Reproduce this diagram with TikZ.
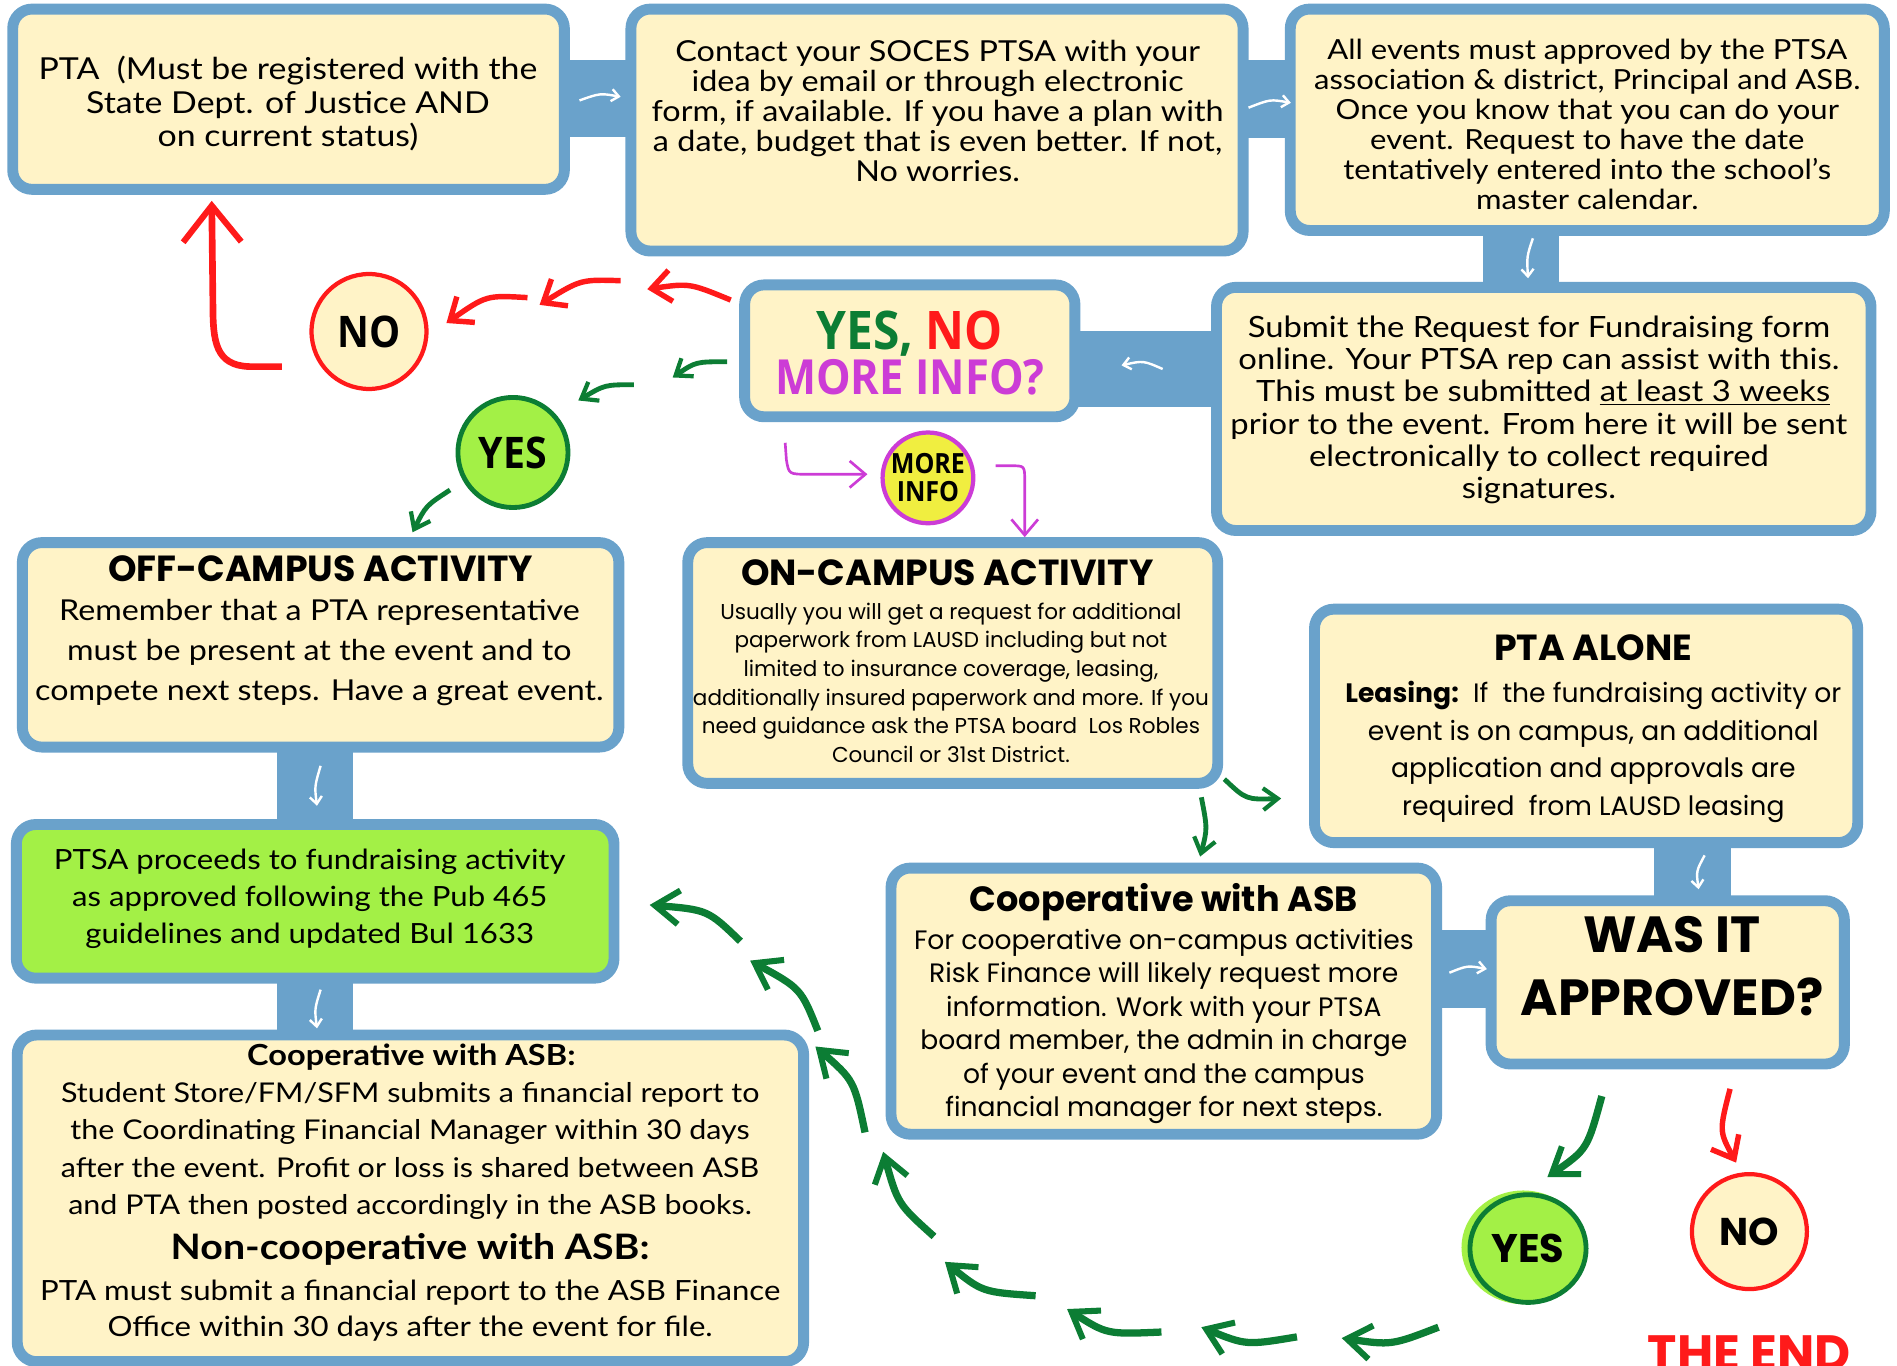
\documentclass[tikz,border=0pt]{standalone}
\usepackage{fontspec}
\setmainfont{Lato}[FakeStretch=1.12]
\newfontfamily\pop{Poppins}
\newfontfamily\cnd[FakeStretch=0.9]{Open Sans}
\usetikzlibrary{arrows.meta,shapes.geometric}
\definecolor{bxblue}{RGB}{106,162,203}
\definecolor{cream}{RGB}{255,243,199}
\definecolor{lgreen}{RGB}{163,240,70}
\definecolor{dgreen}{RGB}{12,125,52}
\definecolor{nred}{RGB}{255,26,26}
\definecolor{mag}{RGB}{204,60,214}
\definecolor{yel}{RGB}{240,238,64}
\newcommand{\fsz}[2]{\fontsize{#1}{#2}\selectfont}
\begin{document}
\begin{tikzpicture}[x=1pt,y=-1pt,
  box/.style={draw=bxblue,line width=9pt,fill=cream,rounded corners=16pt,inner sep=0pt},
  txt/.style={anchor=base,align=center,inner sep=0pt},
  bar/.style={fill=bxblue},
  warr/.style={draw=white,line width=2pt,-{Straight Barb[length=6pt,width=10pt,line width=2pt]}},
  skbig/.style={line width=6pt,-{Straight Barb[length=20pt,width=28pt,line width=5pt]}},
  sksmall/.style={line width=4pt,-{Straight Barb[length=12pt,width=18pt,line width=3.5pt]}},
  skmid/.style={line width=4.5pt,-{Straight Barb[length=16pt,width=26pt,line width=4.5pt]}},
  magarr/.style={draw=mag,line width=2.2pt,-{Straight Barb[length=13pt,width=22pt,line width=2.2pt]}},
  circ/.style={circle,inner sep=0pt}]
\useasboundingbox (0,0) rectangle (1568,1129);
% ---------- bars ----------
\fill[bar] (465,50) rectangle (523,113);
\fill[bar] (1026,50) rectangle (1068,114);
\fill[bar] (1226,189) rectangle (1289,239);
\fill[bar] (887,274) rectangle (1007,336);
\fill[bar] (229,616) rectangle (292,683);
\fill[bar] (229,807) rectangle (292,857);
\fill[bar] (1367,695) rectangle (1431,746);
\fill[bar] (1186,769) rectangle (1234,833);
% ---------- boxes ----------
\node[box,minimum width=456pt,minimum height=149pt] (A) at (238.5,82) {};
\node[box,minimum width=506pt,minimum height=200pt] (B) at (774.5,107.5) {};
\node[box,minimum width=491pt,minimum height=183pt] (C) at (1312,99) {};
\node[box,minimum width=541pt,minimum height=201pt] (D) at (1276,338) {};
\node[box,minimum width=273pt,minimum height=109pt] (E) at (752,290) {};
\node[box,minimum width=493pt,minimum height=169pt] (F) at (265,533) {};
\node[box,fill=lgreen,minimum width=494pt,minimum height=127pt] (G) at (260.5,745) {};
\node[box,minimum width=650pt,minimum height=270pt] (H) at (339.25,990.5) {};
\node[box,minimum width=438pt,minimum height=199pt] (I) at (787.5,548) {};
\node[box,minimum width=449pt,minimum height=193pt] (J) at (1311,600) {};
\node[box,minimum width=292pt,minimum height=135pt] (K) at (1378.5,812) {};
\node[box,minimum width=451pt,minimum height=220pt] (L) at (962,827.5) {};
% ---------- box texts (anchor = baseline of last line) ----------
\node[txt,font=\fsz{25}{27.5}] (tA) at (238,121) {PTA\ \ (Must be registered with the\\State Dept. of Justice AND\\on current status)};
\node[txt,font=\fsz{23.9}{24.75}] (tB) at (775,150) {Contact your SOCES PTSA with your\\idea by email or through electronic\\form, if available. If you have a plan with\\a date, budget that is even better. If not,\\No worries.};
\node[txt,font=\fsz{22.9}{24.8}] (tC) at (1312,173) {All events must approved by the PTSA\\association \& district, Principal and ASB.\\Once you know that you can do your\\event. Request to have the date\\tentatively entered into the school's\\master calendar.};
\node[txt,font=\fsz{24.2}{26.6}] (tD) at (1272,412) {Submit the Request for Fundraising form\\online. Your PTSA rep can assist with this.\\\ This must be submitted \underline{at least 3 weeks}\\prior to the event. From here it will be sent\\electronically to collect required\\signatures.};
\node[txt,font=\cnd\bfseries\fsz{40}{37}] (tE) at (752,326) {{\fsz{44}{37}\color{dgreen}YES, }{\fsz{44}{37}\color{nred}NO}\\{\color{mag}MORE INFO?}};
\node[txt,font=\pop\bfseries\fsz{30}{30}] (tF1) at (265,481) {OFF-CAMPUS ACTIVITY};
\node[txt,font=\fsz{23.8}{33}] (tF2) at (264,579) {Remember that a PTA representative\\must be present at the event and to\\compete next steps. Have a great event.};
\node[txt,font=\fsz{23}{30.7}] (tG) at (256,780) {PTSA proceeds to fundraising activity\\as approved following the Pub 465\\guidelines and updated Bul 1633};
\node[txt,font=\bfseries\fsz{24}{30}] (tH1) at (340,881) {Cooperative with ASB:};
\node[txt,font=\fsz{22.5}{31}] (tH2) at (339,1004) {Student Store/FM/SFM submits a financial report to\\the Coordinating Financial Manager within 30 days\\after the event. Profit or loss is shared between ASB\\and PTA then posted accordingly in the ASB books.};
\node[txt,font=\bfseries\fsz{29}{30}] (tH3) at (339,1041) {Non-cooperative with ASB:};
\node[txt,font=\fsz{23}{30}] (tH4) at (339,1105) {PTA must submit a financial report to the ASB Finance\\Office within 30 days after the event for file.};
\node[txt,font=\pop\bfseries\fsz{30}{30}] (tI1) at (783,484) {ON-CAMPUS ACTIVITY};
\node[txt,font=\pop\fsz{17.8}{23.6}] (tI2) at (786,630) {Usually you will get a request for additional\\paperwork from LAUSD including but not\\limited to insurance coverage, leasing,\\additionally insured paperwork and more. If you\\need guidance ask the PTSA board\ \ Los Robles\\Council or 31st District.};
\node[txt,font=\pop\bfseries\fsz{30}{30}] (tJ1) at (1317,546) {PTA ALONE};
\node[txt,font=\pop\fsz{22}{31}] (tJ2) at (1317,674) {\textbf{Leasing:}\ \ If\ \ the fundraising activity or\\event is on campus, an additional\\application and approvals are\\required\ \ from LAUSD leasing};
\node[txt,font=\pop\bfseries\fsz{42}{52}] (tK) at (1382,839) {WAS IT\\APPROVED?};
\node[txt,font=\pop\bfseries\fsz{29}{30}] (tL1) at (962,753) {Cooperative with ASB};
\node[txt,font=\pop\fsz{22}{27.7}] (tL2) at (962,923) {For cooperative on-campus activities\\Risk Finance will likely request more\\information. Work with your PTSA\\board member, the admin in charge\\of your event and the campus\\financial manager for next steps.};
% ---------- circles ----------
\node[circ,minimum size=95pt,draw=nred,line width=3.5pt,fill=cream,font=\cnd\bfseries\fsz{36}{36}] (NO1) at (305,274) {NO};
\node[circ,minimum size=91pt,draw=dgreen,line width=4pt,fill=lgreen,font=\cnd\bfseries\fsz{36}{36}] (YES1) at (424,374) {YES};
\node[circ,minimum size=75pt,draw=mag,line width=3.5pt,fill=yel,align=center,font=\cnd\bfseries\fsz{23}{23}] (MI) at (767,395) {MORE\\INFO};
\fill[lgreen] (1259,1031) ellipse (51pt and 47pt);
\node[ellipse,inner sep=0pt,minimum width=96pt,minimum height=89pt,draw=dgreen,line width=4pt,fill=lgreen,font=\pop\bfseries\fsz{33}{33}] (YES2) at (1263,1032) {YES};
\node[circ,minimum size=95pt,draw=nred,line width=3.5pt,fill=cream,font=\pop\bfseries\fsz{32}{32}] (NO2) at (1446,1018) {NO};
\node[anchor=base,inner sep=0pt,text=nred,font=\pop\bfseries\fsz{41}{41}] (END) at (1446,1133) {THE END};
% ---------- coordinates ----------
\foreach \n/\x/\y in {
 w1a/479/83,w1c/496/77,w1b/513/80, w2a/1032/89,w2c/1050/82,w2b/1067/85,
 w3a/1267/197,w3c/1262/212,w3b/1263/230, w4a/961/305,w4c/945/298,w4b/927/302,
 w5a/265/633,w5c/260/650,w5b/262/666, w6a/265/818,w6c/260/834,w6b/262/850,
 w7a/1409/707,w7c/1402/720,w7b/1404/735, w8a/1198/804,w8c/1213/798,w8b/1229/801,
 r1a/604/248,r1c/570/234,r1b/535/239, r2a/513/232,r2c/480/231,r2b/446/252,
 r3a/436/246,r3c/402/244,r3b/369/267,
 r4a/233/303,r4m/206/303,r4p/178/302,r4q/176/282,r4n/176/252,r4b/175/166,
 g1a/601/299,g1c/575/299,g1b/556/312, g2a/524/318,g2c/500/318,g2b/478/331,
 g3a/372/405,g3c/352/418,g3b/341/440,
 i1a/1012/644,i1c/1030/661,i1b/1059/660, i2a/993/659,i2c/998/685,i2b/992/708,
 k1a/1324/906,k1c/1312/950,k1b/1279/973, k2a/1430/900,k2c/1421/935,k2b/1435/961,
 c1a/1189/1097,c1c/1150/1112,c1b/1109/1106, c2a/1072/1105,c2c/1030/1112,c2b/993/1097,
 c3a/960/1101,c3c/915/1103,c3b/882/1082, c4a/856/1071,c4c/812/1068,c4b/781/1043,
 c5a/772/1022,c5c/742/995,c5b/730/952, c6a/715/936,c6c/706/893,c6b/674/865,
 c7a/676/852,c7c/662/817,c7b/620/794, c8a/612/778,c8c/585/752,c8b/537/748,
 m1a/649/366,m1d/650/380,m1c/652/392,m1e/668/392,m1b/717/392,
 m2a/823/385,m2d/836/385,m2c/847/385,m2e/847/398,m2b/847/444}
 {\coordinate (\n) at (\x,\y);}
% ---------- white arrows in bars ----------
\foreach \w in {w1,w2,w3,w4,w5,w6,w7,w8}
  \draw[warr] (\w a) .. controls (\w c) .. (\w b);
% ---------- red arrows ----------
\foreach \r in {r1,r2,r3}
  \draw[nred,skmid] (\r a) .. controls (\r c) .. (\r b);
\draw[nred,line width=5.5pt,-{Straight Barb[length=30pt,width=48pt,line width=5pt]}]
  (r4a) -- (r4m) .. controls (r4p) and (r4q) .. (r4n) -- (r4b);
\draw[nred,skmid] (k2a) .. controls (k2c) .. (k2b);
% ---------- green arrows ----------
\foreach \g in {g1,g2,g3}
  \draw[dgreen,sksmall] (\g a) .. controls (\g c) .. (\g b);
\foreach \g in {i1,i2}
  \draw[dgreen,sksmall] (\g a) .. controls (\g c) .. (\g b);
\draw[dgreen,skbig] (k1a) .. controls (k1c) .. (k1b);
\foreach \g in {c1,c2,c3,c4,c5,c6,c7,c8}
  \draw[dgreen,skbig] (\g a) .. controls (\g c) .. (\g b);
% ---------- magenta arrows ----------
\draw[magarr] (m1a) -- (m1d) .. controls (m1c) .. (m1e) -- (m1b);
\draw[magarr] (m2a) -- (m2d) .. controls (m2c) .. (m2e) -- (m2b);
\end{tikzpicture}
\end{document}
